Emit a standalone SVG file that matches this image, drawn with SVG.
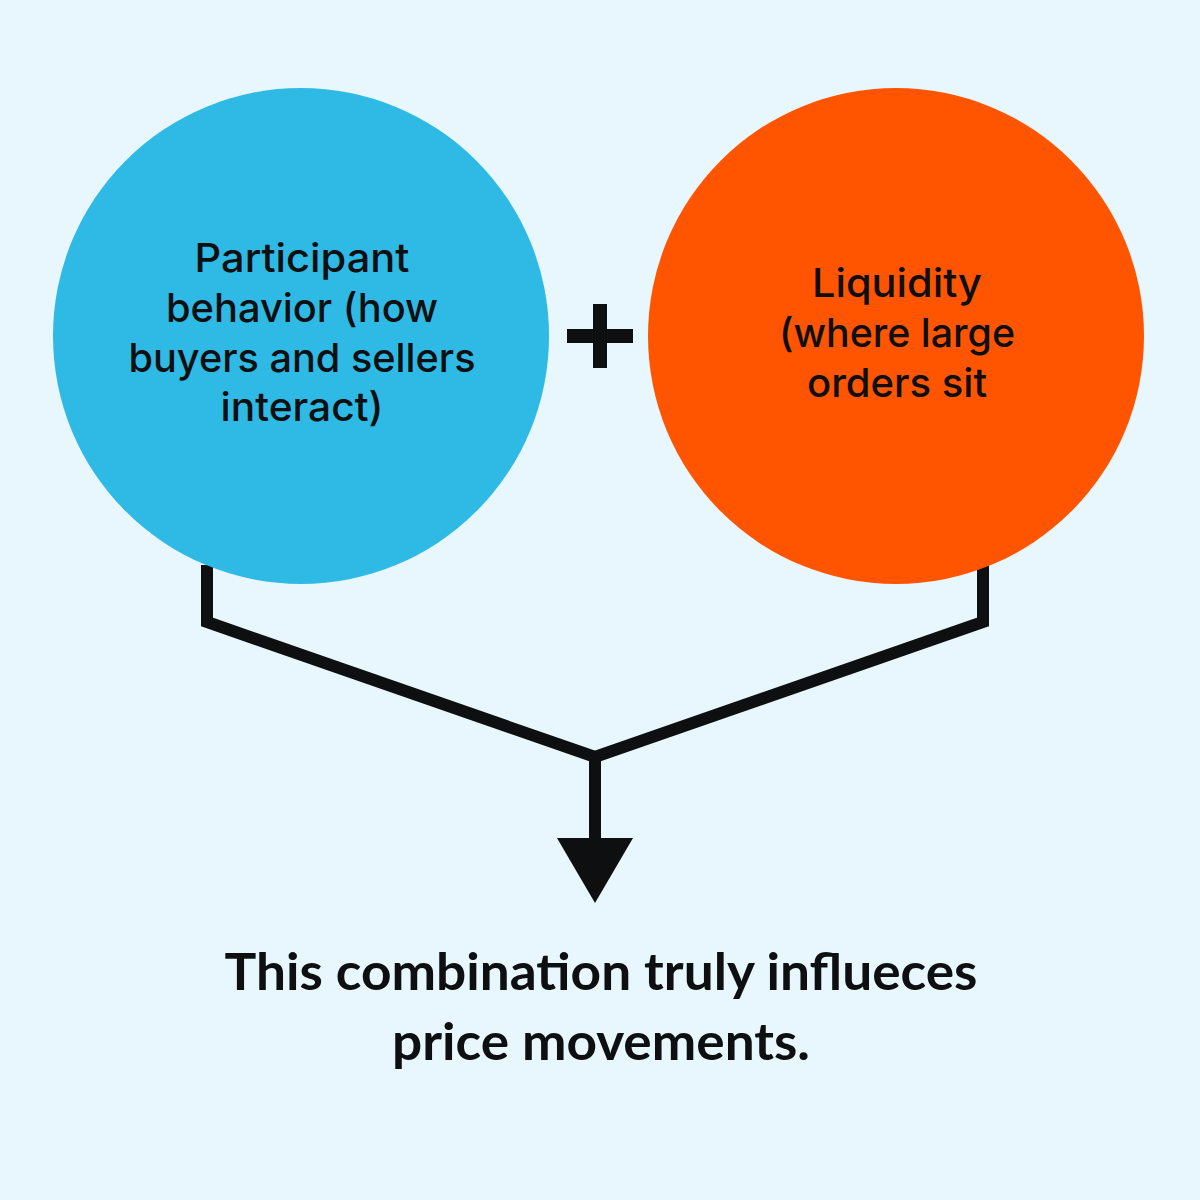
<svg xmlns="http://www.w3.org/2000/svg" width="1200" height="1200" viewBox="0 0 1200 1200">
<style>
.lbl{font-family:Inter,"Liberation Sans",sans-serif;font-size:40px;font-weight:500;fill:#0d0f10;text-anchor:middle}
.big{font-family:Lato,"Liberation Sans",sans-serif;font-weight:700;font-size:51px;fill:#0d0f10;text-anchor:middle}
.wire{fill:none;stroke:#0d0f10;stroke-width:12;stroke-linejoin:miter}
</style>
<rect width="1200" height="1200" fill="#e8f7fd"/>
<g id="connectors">
<polyline class="wire" points="207,565 207,622 595,757 983,622 983,565"/>
<line class="wire" x1="595" y1="757" x2="595" y2="842"/>
<polygon points="557,838 633,838 595,903" fill="#0d0f10"/>
</g>
<g id="node-participant">
<circle cx="301" cy="336" r="248" fill="#2ebae5"/>
<text class="lbl" x="302" y="272" textLength="215" lengthAdjust="spacingAndGlyphs">Participant</text>
<text class="lbl" x="302" y="322" textLength="272" lengthAdjust="spacingAndGlyphs">behavior (how</text>
<text class="lbl" x="302" y="372" textLength="347" lengthAdjust="spacingAndGlyphs">buyers and sellers</text>
<text class="lbl" x="302" y="421" textLength="163" lengthAdjust="spacingAndGlyphs">interact)</text>
</g>
<g id="node-liquidity">
<circle cx="896" cy="336" r="248" fill="#ff5500"/>
<text class="lbl" x="897" y="297" textLength="170" lengthAdjust="spacingAndGlyphs">Liquidity</text>
<text class="lbl" x="897" y="347" textLength="236" lengthAdjust="spacingAndGlyphs">(where large</text>
<text class="lbl" x="897" y="397" textLength="180" lengthAdjust="spacingAndGlyphs">orders sit</text>
</g>
<g id="plus">
<rect x="567" y="329" width="66" height="14" fill="#0d0f10"/>
<rect x="593" y="304" width="14" height="64" fill="#0d0f10"/>
</g>
<g id="conclusion">
<text class="big" x="601" y="990" textLength="753" lengthAdjust="spacingAndGlyphs">This combination truly influeces</text>
<text class="big" x="601" y="1060" textLength="418" lengthAdjust="spacingAndGlyphs">price movements.</text>
</g>
</svg>
